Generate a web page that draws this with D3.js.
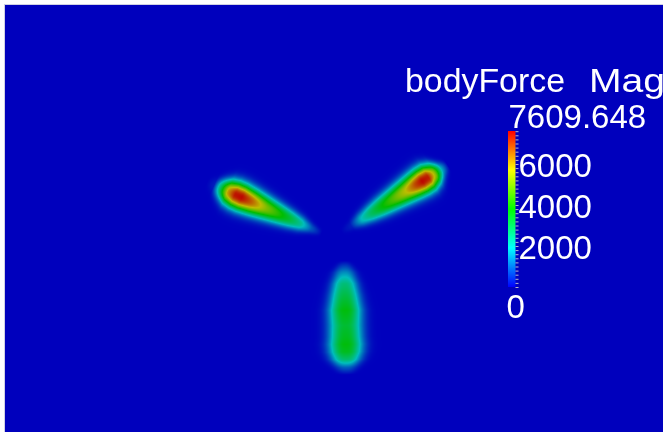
<!DOCTYPE html>
<html><head><meta charset="utf-8">
<script src="https://cdn.jsdelivr.net/npm/d3@7"></script>
<style>
html,body{margin:0;padding:0;background:#fff;overflow:hidden}
#wrap{position:relative;width:663px;height:432px}
canvas,svg{position:absolute;left:0;top:0}
</style></head><body><div id="wrap"></div>
<script>
// ---------------- data ----------------
const titleWords = ["bodyForce", "Mag"];
const rangeMin = 0;
const rangeMax = 7609.648;
const labelTicks = [2000, 4000, 6000];
const minorStep = 200;
// radial stations along each blade (m from hub)
const stations = [6, 12, 18, 24, 30, 38, 46, 52, 56, 60, 64, 68, 72];
const bladeAngles = [155.8, 32.2, -89];      // deg, counter-clockwise from +x
const bladeHubX = [0, 0, 6.3];               // m
const bladeHubY = [0, 0, 0];                 // m
const bladeSharpness = [2.3, 2.3, 2.5];
// force magnitude along each blade axis
const leftValues   = [0, 900, 2300, 3200, 4000, 5100, 6600, 7550, 7400, 6000, 3000, 300, 0];
const rightValues  = [0, 300, 1800, 2800, 3600, 4600, 5700, 6900, 7550, 7300, 5200, 1800, 0];
const bottomValues = [0, 0, 1400, 2600, 3100, 3700, 3300, 3500, 3700, 3500, 2700, 1000, 0];
// half width of the force region at each station (m)
const leftHalfWidth   = [2.6, 4.4, 6.5, 7.8, 8.8, 10.0, 11.0, 11.5, 11.5, 11.0, 9.2, 6.8, 4.3];
const rightHalfWidth  = [2.6, 4.2, 6.1, 7.5, 8.6, 9.6, 10.6, 11.2, 11.5, 11.5, 10.2, 7.3, 4.3];
const bottomHalfWidth = [2.6, 4.5, 8.8, 10.6, 12.0, 13.4, 13.6, 13.6, 14.0, 13.6, 12.3, 9.6, 6.1];

// ---------------- layout ----------------
const W = 663, H = 432;
const x = d3.scaleLinear().domain([0, 100]).range([332, 522]);
const y = d3.scaleLinear().domain([0, 100]).range([238, 48]);
const shade = 0.74;
const color = d3.scaleLinear()
  .domain([0, 0.25, 0.5, 0.75, 1].map(t => rangeMin + t * (rangeMax - rangeMin)))
  .range(["#0000ff", "#00ffff", "#00ff00", "#ffff00", "#ff0000"])
  .clamp(true);

const blades = [
  {values: leftValues, hw: leftHalfWidth},
  {values: rightValues, hw: rightHalfWidth},
  {values: bottomValues, hw: bottomHalfWidth}
].map((b, i) => {
  const a = bladeAngles[i] * Math.PI / 180;
  return {
    ux: Math.cos(a), uy: Math.sin(a),
    hx: bladeHubX[i], hy: bladeHubY[i], p: bladeSharpness[i],
    v: d3.scaleLinear().domain(stations).range(b.values).clamp(true),
    w: d3.scaleLinear().domain(stations).range(b.hw).clamp(true)
  };
});

const wrap = d3.select("#wrap");
const canvas = wrap.append("canvas").attr("width", W).attr("height", H).node();
const ctx = canvas.getContext("2d");
ctx.fillStyle = "#fff";
ctx.fillRect(0, 0, W, H);
const x0 = 5, y0 = 5;
const img = ctx.createImageData(W - x0, H - y0);
for (let py = y0; py < H; py++) {
  const my = y.invert(py + 0.5);
  for (let px = x0; px < W; px++) {
    const mx = x.invert(px + 0.5);
    let val = 0;
    for (const b of blades) {
      const dx = mx - b.hx, dy = my - b.hy;
      const r = dx * b.ux + dy * b.uy;
      if (r < stations[0] || r > stations[stations.length - 1]) continue;
      const d = Math.abs(-dx * b.uy + dy * b.ux);
      const t = d / b.w(r);
      if (t > 1.8) continue;
      val += b.v(r) * Math.exp(-3.2 * Math.pow(t, b.p));
    }
    const c = d3.rgb(color(val));
    const k = ((py - y0) * (W - x0) + (px - x0)) * 4;
    img.data[k] = c.r * shade;
    img.data[k + 1] = c.g * shade;
    img.data[k + 2] = c.b * shade;
    img.data[k + 3] = 255;
  }
}
ctx.putImageData(img, x0, y0);
ctx.fillStyle = "#cfd0e4";
ctx.fillRect(x0 - 1, y0 - 1, W, 1);
ctx.fillRect(x0 - 1, y0 - 1, 1, H);

// ---------------- scalar bar ----------------
const svg = wrap.append("svg").attr("width", W).attr("height", H);
const cb = d3.scaleLinear().domain([rangeMin, rangeMax]).range([287, 131]);
const grad = svg.append("defs").append("linearGradient")
  .attr("id", "cbg").attr("x1", 0).attr("y1", 1).attr("x2", 0).attr("y2", 0);
grad.selectAll("stop").data(color.domain()).join("stop")
  .attr("offset", d => (d - rangeMin) / (rangeMax - rangeMin))
  .attr("stop-color", d => color(d));
const barX = 508, barW = 7.5;
svg.append("rect").attr("x", barX).attr("y", cb(rangeMax))
  .attr("width", barW).attr("height", cb(rangeMin) - cb(rangeMax))
  .attr("fill", "url(#cbg)");

const axis = d3.axisRight(cb)
  .tickValues(d3.range(rangeMin, rangeMax, minorStep))
  .tickSize(3).tickSizeOuter(0).tickFormat("");
const ag = svg.append("g").attr("transform", `translate(${barX + barW},0)`).call(axis);
ag.select(".domain").remove();
ag.selectAll("line").attr("stroke", "#b8b8d0").attr("stroke-width", 1);

const font = "'Liberation Sans', Arial, sans-serif";
const title = svg.append("text").attr("y", 92)
  .attr("font-family", font).attr("font-size", 33).attr("fill", "#fff");
title.append("tspan").attr("x", 405).attr("textLength", 160)
  .attr("lengthAdjust", "spacingAndGlyphs").text(titleWords[0]);
title.append("tspan").attr("x", 589).attr("textLength", 76)
  .attr("lengthAdjust", "spacingAndGlyphs").text(titleWords[1]);
svg.append("text").attr("x", 508.5).attr("y", cb(rangeMax) - 3)
  .attr("font-family", font).attr("font-size", 33).attr("fill", "#fff")
  .text(d3.format(".3f")(rangeMax));
svg.selectAll("text.tl").data(labelTicks).join("text").attr("class", "tl")
  .attr("x", 518.5).attr("y", d => cb(d) + 13.5)
  .attr("font-family", font).attr("font-size", 33).attr("fill", "#fff")
  .text(d => d);
svg.append("text").attr("x", 506.5).attr("y", 318)
  .attr("font-family", font).attr("font-size", 33).attr("fill", "#fff")
  .text(rangeMin);
</script></body></html>
